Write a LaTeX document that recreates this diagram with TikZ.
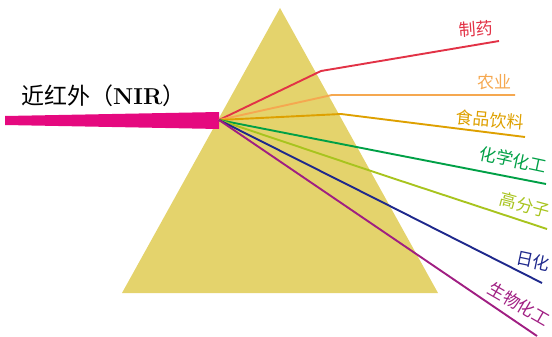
\documentclass[tikz,border=0pt]{standalone}
\usepackage{fontspec}
\newfontfamily\cjk{Noto Sans CJK SC}
\definecolor{prism}{RGB}{228,211,108}
\definecolor{nir}{RGB}{229,9,127}
\definecolor{cPharma}{RGB}{226,50,70}
\definecolor{cAgri}{RGB}{245,168,80}
\definecolor{cFood}{RGB}{222,160,0}
\definecolor{cChem}{RGB}{0,160,70}
\definecolor{cPoly}{RGB}{168,196,30}
\definecolor{cDaily}{RGB}{30,40,140}
\definecolor{cBio}{RGB}{160,30,130}

\begin{document}
\begin{tikzpicture}[x=1pt,y=-1pt]
  \tikzstyle{ray}=[line width=1.9pt]
  \tikzstyle{lab}=[font=\cjk\fontsize{17}{17}\selectfont,inner sep=0pt]
  \useasboundingbox (0,0) rectangle (552,337);
  \fill[prism] (280,8) -- (438,293) -- (122,293) -- cycle;
  \fill[nir] (5,116) -- (219,112) -- (219,129) -- (5,125) -- cycle;
  \coordinate (src) at (219,120);
  \node[anchor=west,inner sep=0pt] (title) at (21,96)
    {\fontsize{23}{23}\selectfont\cjk 近红外（\textbf{\rmfamily NIR}）};
  \foreach \name/\col/\bx/\by/\ex/\ey/\lx/\ly/\rot/\lab in {
      pharma/cPharma/321/71/499/41/476/29/4/制药,
      agri/cAgri/332/95/515/95/494/82/0/农业,
      food/cFood/341/114/525/137/490/120/-5/食品饮料,
      chem/cChem/382/152/546/184/513/160/-12/化学化工,
      poly/cPoly/383/175/547/229/525/205/-15/高分子,
      daily/cDaily/380/201/542/283/533/261/-12/日化,
      bio/cBio/378/228/537/336/519/304/-30/生物化工}
  {
    \coordinate (b-\name) at (\bx,\by);
    \coordinate (e-\name) at (\ex,\ey);
    \draw[ray,\col] (src) -- (b-\name) -- (e-\name);
    \node[lab,text=\col,rotate=\rot] (L-\name) at (\lx,\ly) {\lab};
  }
\end{tikzpicture}
\end{document}
